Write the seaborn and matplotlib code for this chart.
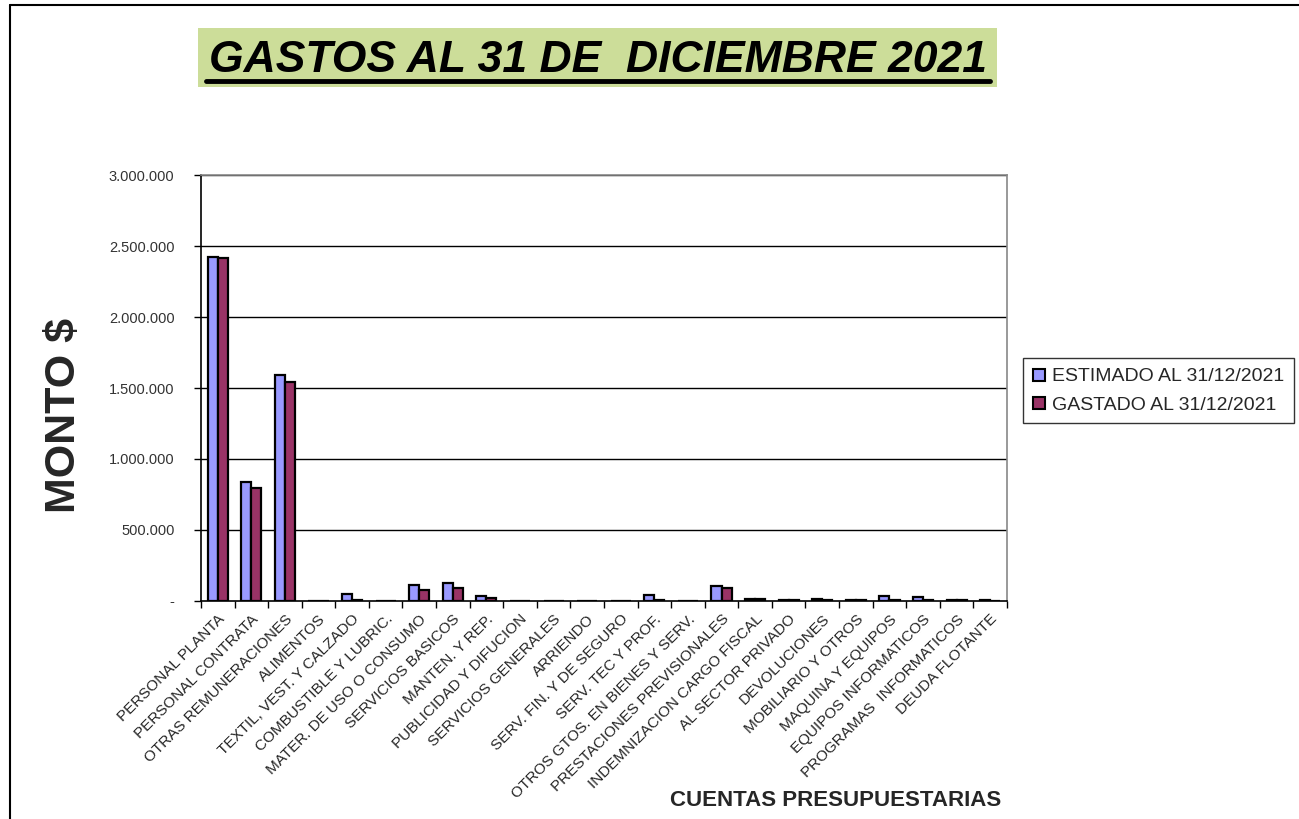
import numpy as np
import matplotlib
matplotlib.use('Agg')
import matplotlib.pyplot as plt
from matplotlib.lines import Line2D
from matplotlib.patches import Rectangle
from matplotlib.ticker import FuncFormatter, FixedLocator
import seaborn as sns
import pandas as pd

# budget accounts and the two series
cuentas = ['PERSONAL PLANTA', 'PERSONAL CONTRATA', 'OTRAS REMUNERACIONES', 'ALIMENTOS',
           'TEXTIL, VEST. Y CALZADO', 'COMBUSTIBLE Y LUBRIC.', 'MATER. DE USO O CONSUMO',
           'SERVICIOS BASICOS', 'MANTEN. Y REP.', 'PUBLICIDAD Y DIFUCION',
           'SERVICIOS GENERALES', 'ARRIENDO', 'SERV. FIN. Y DE SEGURO', 'SERV. TEC Y PROF.',
           'OTROS GTOS. EN BIENES Y SERV.', 'PRESTACIONES PREVISIONALES',
           'INDEMNIZACION CARGO FISCAL', 'AL SECTOR PRIVADO', 'DEVOLUCIONES',
           'MOBILIARIO Y OTROS', 'MAQUINA Y EQUIPOS', 'EQUIPOS INFORMATICOS',
           'PROGRAMAS  INFORMATICOS', 'DEUDA FLOTANTE']
estimado = [2422000, 838000, 1591000, 3000, 50000, 0, 110000, 127000, 35000, 3000,
            3000, 3000, 3000, 44000, 3000, 103000, 15000, 5000, 15000, 5000,
            37000, 28000, 4000, 4000]
gastado = [2415000, 796000, 1542000, 3000, 8000, 0, 75000, 94000, 19000, 3000,
           3000, 3000, 3000, 7000, 3000, 94000, 15000, 5000, 8000, 5000,
           8000, 7000, 4000, 0]
series = ['ESTIMADO AL 31/12/2021', 'GASTADO AL 31/12/2021']
y_ticks = [0, 500000, 1000000, 1500000, 2000000, 2500000, 3000000]

df = pd.DataFrame({
    'cuenta': cuentas * 2,
    'monto': estimado + gastado,
    'serie': [series[0]] * len(cuentas) + [series[1]] * len(cuentas),
})

sns.set_theme(style='white')
plt.rcParams['font.family'] = ['Liberation Sans', 'DejaVu Sans']

fig = plt.figure(figsize=(12.99, 8.19), dpi=100)
ax = fig.add_axes([0.1547, 0.2662, 0.7752 - 0.1547, 0.7863 - 0.2662])

sns.barplot(data=df, x='cuenta', y='monto', hue='serie', palette=['#9999FF', '#993366'],
            edgecolor='black', linewidth=1.6, width=0.6, gap=0, saturation=1,
            errorbar=None, ax=ax, zorder=3)

ax.set_xlim(-0.5, len(cuentas) - 0.5)
ax.set_ylim(0, 3000000)
ax.set_xlabel('')
ax.set_ylabel('')

# horizontal grid lines
ax.yaxis.set_major_locator(FixedLocator(y_ticks))
for v in y_ticks[1:]:
    ax.axhline(v, color='black', linewidth=1, zorder=1)

def miles(v, pos):
    if v == 0:
        return '-'
    return f'{v:,.0f}'.replace(',', '.')

ax.yaxis.set_major_formatter(FuncFormatter(miles))
ax.yaxis.set_tick_params(which='major', direction='out', length=5, width=1, color='black',
                         pad=14, labelsize=10.5, labelcolor='#333333', left=True)

# x tick marks between categories, labels at centers
ax.set_xticks(np.arange(len(cuentas)))
ax.set_xticklabels(cuentas, rotation=45, ha='right', rotation_mode='anchor', fontsize=11)
ax.tick_params(axis='x', which='major', length=0, pad=8)
ax.set_xticks(np.arange(len(cuentas) + 1) - 0.5, minor=True)
ax.tick_params(axis='x', which='minor', direction='out', length=5, width=1, color='black', bottom=True)

for s in ['left', 'bottom']:
    ax.spines[s].set_color('black')
    ax.spines[s].set_linewidth(1.2)
for s in ['top', 'right']:
    ax.spines[s].set_visible(True)
    ax.spines[s].set_color('#888888')
    ax.spines[s].set_linewidth(1.2)

# legend outside on the right
ax.legend_.remove()
handles = [Line2D([], [], marker='s', linestyle='', markersize=8, markerfacecolor=c,
                  markeredgecolor='black', markeredgewidth=1.5) for c in ['#9999FF', '#993366']]
leg = fig.legend(handles, series, loc='upper left', bbox_to_anchor=(1023 / 1299, 1 - 358 / 819),
                 bbox_transform=fig.transFigure, frameon=True, fancybox=False, fontsize=14,
                 handlelength=0.6, handletextpad=0.4, borderpad=0.5, labelspacing=0.55,
                 borderaxespad=0)
leg.get_frame().set_edgecolor('black')
leg.get_frame().set_linewidth(1)

# title box with underline
W, H = 1299, 819
fig.add_artist(Rectangle((198 / W, 1 - 87 / H), (997 - 198) / W, (87 - 28) / H,
                         transform=fig.transFigure, facecolor='#CCDD99', edgecolor='none'))
fig.text(598 / W, 1 - 61 / H, 'GASTOS AL 31 DE  DICIEMBRE 2021', ha='center', va='center',
         fontsize=32, fontweight='bold', fontstyle='italic', color='black')
fig.add_artist(Line2D([206 / W, 990 / W], [1 - 81 / H, 1 - 81 / H], transform=fig.transFigure,
                      color='black', linewidth=3.5))

# axis titles
fig.text(64 / W, 1 - 415 / H, 'MONTO $', rotation=90, ha='center', va='center',
         fontsize=31, fontweight='bold')
fig.text(836 / W, 1 - 800 / H, 'CUENTAS PRESUPUESTARIAS', ha='center', va='center',
         fontsize=16, fontweight='bold')

# page border lines (top and left)
fig.add_artist(Line2D([10 / W, 1], [1 - 5 / H, 1 - 5 / H], transform=fig.transFigure,
                      color='black', linewidth=1.5))
fig.add_artist(Line2D([10 / W, 10 / W], [0, 1 - 5 / H], transform=fig.transFigure,
                      color='black', linewidth=1.5))

plt.savefig('out.png', dpi=100)
